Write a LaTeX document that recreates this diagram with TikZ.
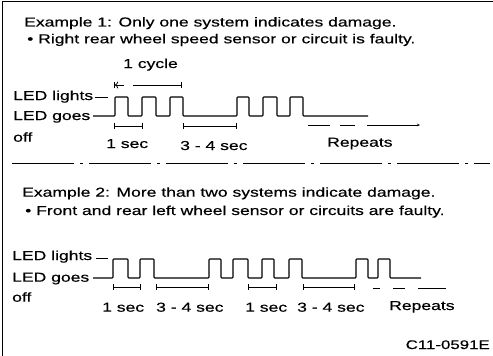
\documentclass[tikz,border=0pt]{standalone}
\usepackage{fontspec}
\setmainfont{Liberation Sans}[FakeStretch=1.35,FakeBold=0.4]
\usetikzlibrary{arrows.meta}
\begin{document}
\begin{tikzpicture}[x=1pt,y=-1pt,
  txt/.style={anchor=base west, inner sep=0pt, font=\fontsize{13}{15}\selectfont},
  wave/.style={line width=1.1pt, line join=round, rounded corners=0.8pt},
  dim/.style={line width=0.8pt, |-|},
  lbl/.style={line width=0.9pt}]
\useasboundingbox (0,0) rectangle (493,356);
\fill[white] (0,0) rectangle (493,356);
\draw[line width=1.5pt] (2.5,356) -- (2.5,1.5) -- (493,1.5);

% Example 1
\node[txt] (ex1) at (24,26.5) {Example 1: Only one system indicates damage.};
\node[txt] (ex1b) at (27,43.3) {\textbullet\ Right rear wheel speed sensor or circuit is faulty.};
\node[txt] (cyc) at (123,68) {1 cycle};
\node[txt] (l1) at (13,100) {LED lights};
\node[txt] (g1) at (13,120) {LED goes};
\node[txt] (o1) at (13,141.7) {off};
\node[txt] (s1) at (106,148) {1 sec};
\node[txt] (s2) at (180,150) {3 - 4 sec};
\node[txt] (r1) at (327,146.7) {Repeats};

\draw[lbl] (95,97) -- (108,97);
\draw[wave] (93,116)--(115,116)--(115,97)--(128,97)--(128,116)--(142,116)--(142,97)--(156,97)--(156,116)--(170,116)--(170,97)--(183,97)--(183,116)--(237,116)--(237,97)--(249,97)--(249,116)--(263,116)--(263,97)--(277,97)--(277,116)--(290,116)--(290,97)--(303,97)--(303,116)--(368,116);

\draw[line width=0.8pt, |<-] (114,85) -- (124,85);
\draw[line width=0.8pt, -|] (133,85) -- (182,85);
\draw[dim] (114,126) -- (143,126);
\draw[dim] (183,126) -- (237,126);
\draw[lbl] (308,125) -- (330,125);
\draw[lbl] (340,125) -- (355,125);
\draw[lbl, -{Stealth[length=3pt,width=2.5pt]}] (367,125) -- (420,125);

% separator
\draw[line width=1pt, dash pattern=on 62pt off 6pt on 3pt off 6pt] (12,163) -- (490,163);

% Example 2
\node[txt] (ex2) at (22,196.7) {Example 2: More than two systems indicate damage.};
\node[txt] (ex2b) at (25,215) {\textbullet\ Front and rear left wheel sensor or circuits are faulty.};
\node[txt] (l2) at (12,260) {LED lights};
\node[txt] (g2) at (12,281.7) {LED goes};
\node[txt] (o2) at (12,301.7) {off};
\node[txt] (t1) at (102,311.7) {1 sec};
\node[txt] (t2) at (156,311.7) {3 - 4 sec};
\node[txt] (t3) at (245,311.7) {1 sec};
\node[txt] (t4) at (297,311.7) {3 - 4 sec};
\node[txt] (r2) at (389,310) {Repeats};

\draw[lbl] (96,258) -- (108,258);
\draw[wave] (93,278)--(113,278)--(113,259)--(128,259)--(128,278)--(140,278)--(140,259)--(154,259)--(154,278)--(209,278)--(209,259)--(221,259)--(221,278)--(233,278)--(233,259)--(248,259)--(248,278)--(262,278)--(262,259)--(274,259)--(274,278)--(289,278)--(289,259)--(302,259)--(302,278)--(356,278)--(356,259)--(368,259)--(368,278)--(378,278)--(378,259)--(390,259)--(390,278)--(421,278);

\draw[dim] (113,287) -- (141,287);
\draw[dim] (156,287) -- (209,287);
\draw[dim] (248,287) -- (277,287);
\draw[dim] (303,287) -- (355,287);
\draw[lbl] (373,288) -- (380,288);
\draw[lbl] (393,288) -- (405,288);
\draw[lbl] (418,288) -- (446,288);

\node[anchor=base east, inner sep=0pt, font=\fontsize{12.5}{15}\selectfont] (code) at (490,349) {C11-0591E};
\end{tikzpicture}
\end{document}
